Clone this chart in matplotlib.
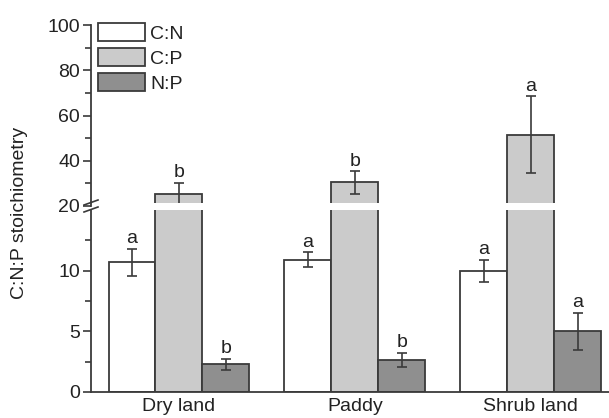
import numpy as np
import matplotlib
matplotlib.use("Agg")
import matplotlib.pyplot as plt
from matplotlib.lines import Line2D
from matplotlib.patches import Rectangle

plt.rcParams['font.family'] = ['Liberation Sans', 'DejaVu Sans']

# dados
grupos = ["Dry land", "Paddy", "Shrub land"]
series = ["C:N", "C:P", "N:P"]
cn = [10.7, 10.9, 10.0]
cn_err = [1.1, 0.6, 0.9]
cp = [25.5, 30.5, 51.5]
cp_err = [4.8, 5.0, 17.0]
np_ratio = [2.3, 2.65, 5.0]
np_err = [0.45, 0.6, 1.55]
letras_cn = ["a", "a", "a"]
letras_cp = ["b", "b", "a"]
letras_np = ["b", "b", "a"]

cores = ["white", "#cbcbcb", "#8f8f8f"]
cor_linha = "#3a3a3a"
cor_texto = "#222222"
fs = 14

W, H = 609, 418
fig = plt.figure(figsize=(6.09, 4.18), dpi=100)
# eixo superior 20-100 (y=25..206 px), eixo inferior 0-15 (y=210..392 px)
ax_top = fig.add_axes([91 / W, 1 - 206 / H, 1 - 91 / W, 181 / H])
ax_bot = fig.add_axes([91 / W, 1 - 392 / H, 1 - 91 / W, 182 / H])

x = np.arange(len(grupos))
w = 0.267
valores = [cn, cp, np_ratio]
erros = [cn_err, cp_err, np_err]
letras = [letras_cn, letras_cp, letras_np]

for ax in (ax_top, ax_bot):
    for i in range(3):
        if ax is ax_top and i != 1:
            continue
        pos = x + (i - 1) * w
        ax.bar(pos, valores[i], w, color=cores[i], edgecolor=cor_linha,
               linewidth=1.3, label=series[i])
        ax.errorbar(pos, valores[i], yerr=erros[i], fmt="none", ecolor=cor_linha,
                    elinewidth=1.2, capsize=3.5, capthick=1.2)
        for p, v, e, l in zip(pos, valores[i], erros[i], letras[i]):
            ax.annotate(l, (p, v + e), xytext=(0, 1), textcoords="offset points",
                        ha="center", va="bottom", fontsize=fs, color=cor_texto,
                        annotation_clip=True)
    ax.set_xlim(-0.5, 2.445)
    for s in ("top", "right"):
        ax.spines[s].set_visible(False)
    ax.spines["left"].set_color(cor_linha)
    ax.spines["bottom"].set_color(cor_linha)
    ax.spines["left"].set_linewidth(1.3)
    ax.spines["bottom"].set_linewidth(1.3)
    ax.tick_params(axis="y", direction="out", length=6, width=1.2, color=cor_linha,
                   labelsize=fs, labelcolor=cor_texto, pad=2)
    ax.tick_params(axis="y", which="minor", direction="out", length=4, width=1.2,
                   color=cor_linha)

ax_top.set_ylim(20, 100)
ax_top.set_yticks([20, 40, 60, 80, 100])
ax_top.set_yticks([30, 50, 70, 90], minor=True)
ax_top.spines["bottom"].set_visible(False)
ax_top.set_xticks([])

ax_bot.set_ylim(0, 15)
ax_bot.set_yticks([0, 5, 10])
ax_bot.set_yticks([2.5, 7.5, 12.5], minor=True)
ax_bot.set_xticks(x)
ax_bot.set_xticklabels(grupos)
ax_bot.tick_params(axis="x", length=0, labelsize=fs, labelcolor=cor_texto, pad=4)

# legenda
h, l = ax_bot.get_legend_handles_labels()
ax_top.legend(h, l, loc="upper left", bbox_to_anchor=(0.0135, 1.01), frameon=False,
              fontsize=fs, handlelength=2.4, handleheight=1.05, labelspacing=0.28,
              handletextpad=0.3, borderpad=0, borderaxespad=0, labelcolor=cor_texto)

# faixa branca da quebra e marcas no eixo
fig.add_artist(Rectangle((93 / W, 1 - 210 / H), 1, 7 / H, transform=fig.transFigure,
                         facecolor="white", edgecolor="none", zorder=5))
for yy in (203, 210):
    y0 = 1 - (yy + 2) / H
    y1 = 1 - (yy - 3) / H
    fig.add_artist(Line2D([84 / W, 98 / W], [y0, y1], color=cor_linha, lw=1.2, zorder=6))

fig.text(20 / W, 1 - 213 / H, "C:N:P stoichiometry", rotation=90, ha="center",
         va="center", fontsize=fs, color=cor_texto)

fig.savefig("out.png", dpi=100)
